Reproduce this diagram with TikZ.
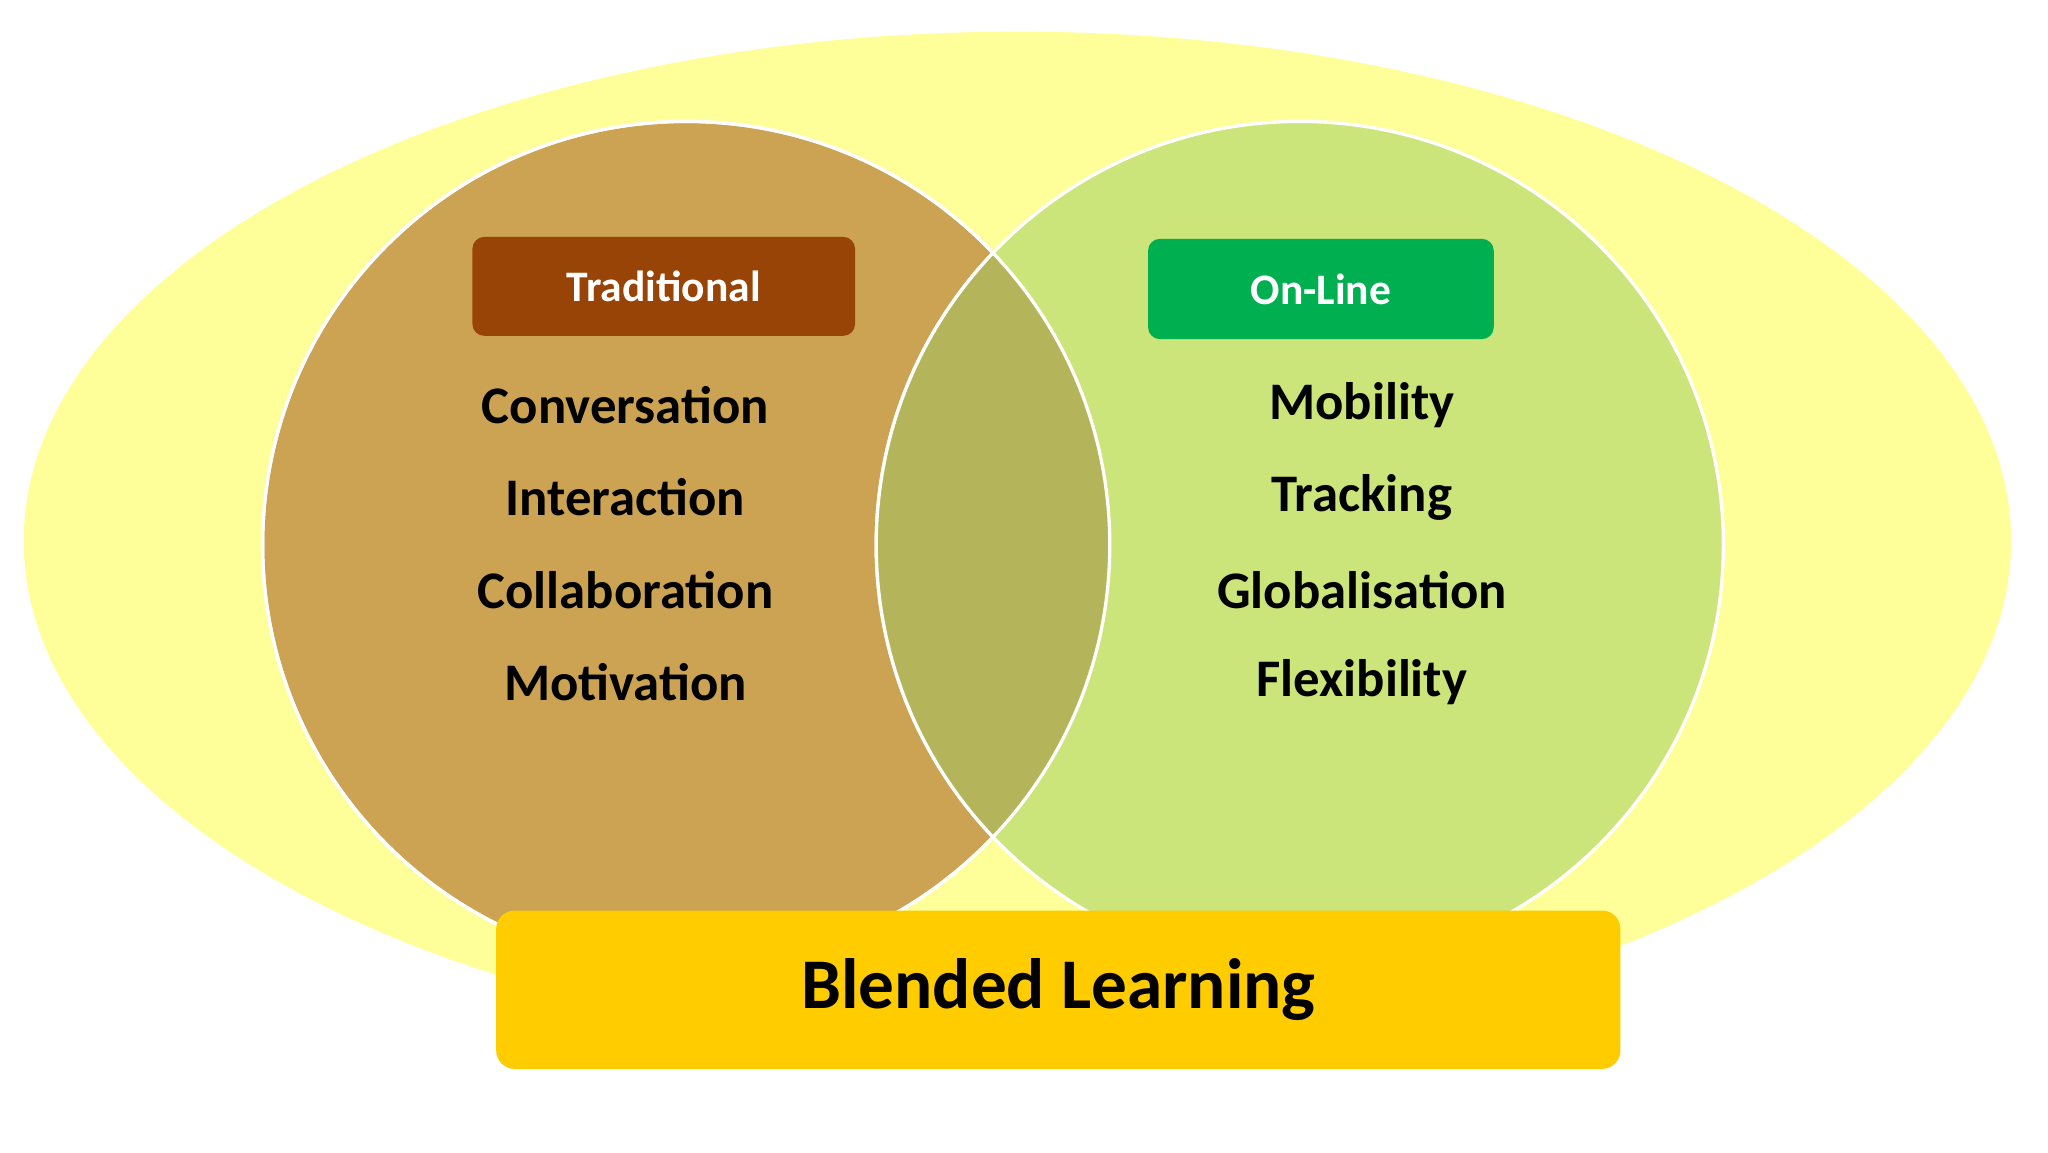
\documentclass[tikz,border=0pt]{standalone}
\usepackage{fontspec}
\setmainfont{Carlito}
\definecolor{bgell}{HTML}{FFFF99}
\definecolor{leftc}{HTML}{CBA352}
\definecolor{rightc}{HTML}{CCE57A}
\definecolor{midc}{HTML}{B4B45A}
\definecolor{tradc}{HTML}{984407}
\definecolor{onlc}{HTML}{00B050}
\definecolor{blendc}{HTML}{FFCC00}
\begin{document}
\begin{tikzpicture}[x=1pt,y=-1pt,
  item/.style={font=\bfseries\fontsize{40}{44}\selectfont,text=black},
  tag/.style={rounded corners=9pt,font=\bfseries\fontsize{33}{36}\selectfont,text=white,anchor=center}]
\useasboundingbox (0,0) rectangle (1552,873);
\fill[white] (0,0) rectangle (1552,873);
\fill[bgell] (771,410) ellipse [x radius=753, y radius=386];
\fill[leftc,draw=white,line width=2.5pt] (520,413) circle[radius=321];
\fill[rightc,draw=white,line width=2.5pt] (985,413) circle[radius=321];
\begin{scope}
\clip (520,413) circle[radius=321];
\fill[midc,draw=white,line width=2.5pt] (985,413) circle[radius=321];
\end{scope}
\draw[white,line width=2.5pt] (520,413) circle[radius=321];
\node[tag,fill=tradc,minimum width=290pt,minimum height=75pt] (trad) at (503,217) {Traditional};
\node[tag,fill=onlc,minimum width=262pt,minimum height=76pt] (onl) at (1001,219) {On-Line};
\node[item] (l1) at (474,307) {Conversation};
\node[item] (l2) at (474,377) {Interaction};
\node[item] (l3) at (474,447) {Collaboration};
\node[item] (l4) at (474,517) {Motivation};
\node[item] (r1) at (1032,307) {Mobility};
\node[item] (r2) at (1032,377) {Tracking};
\node[item] (r3) at (1032,447) {Globalisation};
\node[item] (r4) at (1032,517) {Flexibility};
\node[fill=blendc,rounded corners=14pt,minimum width=852pt,minimum height=120pt,
  font=\bfseries\fontsize{54}{60}\selectfont] (blend) at (802,750) {Blended Learning};
\end{tikzpicture}
\end{document}
